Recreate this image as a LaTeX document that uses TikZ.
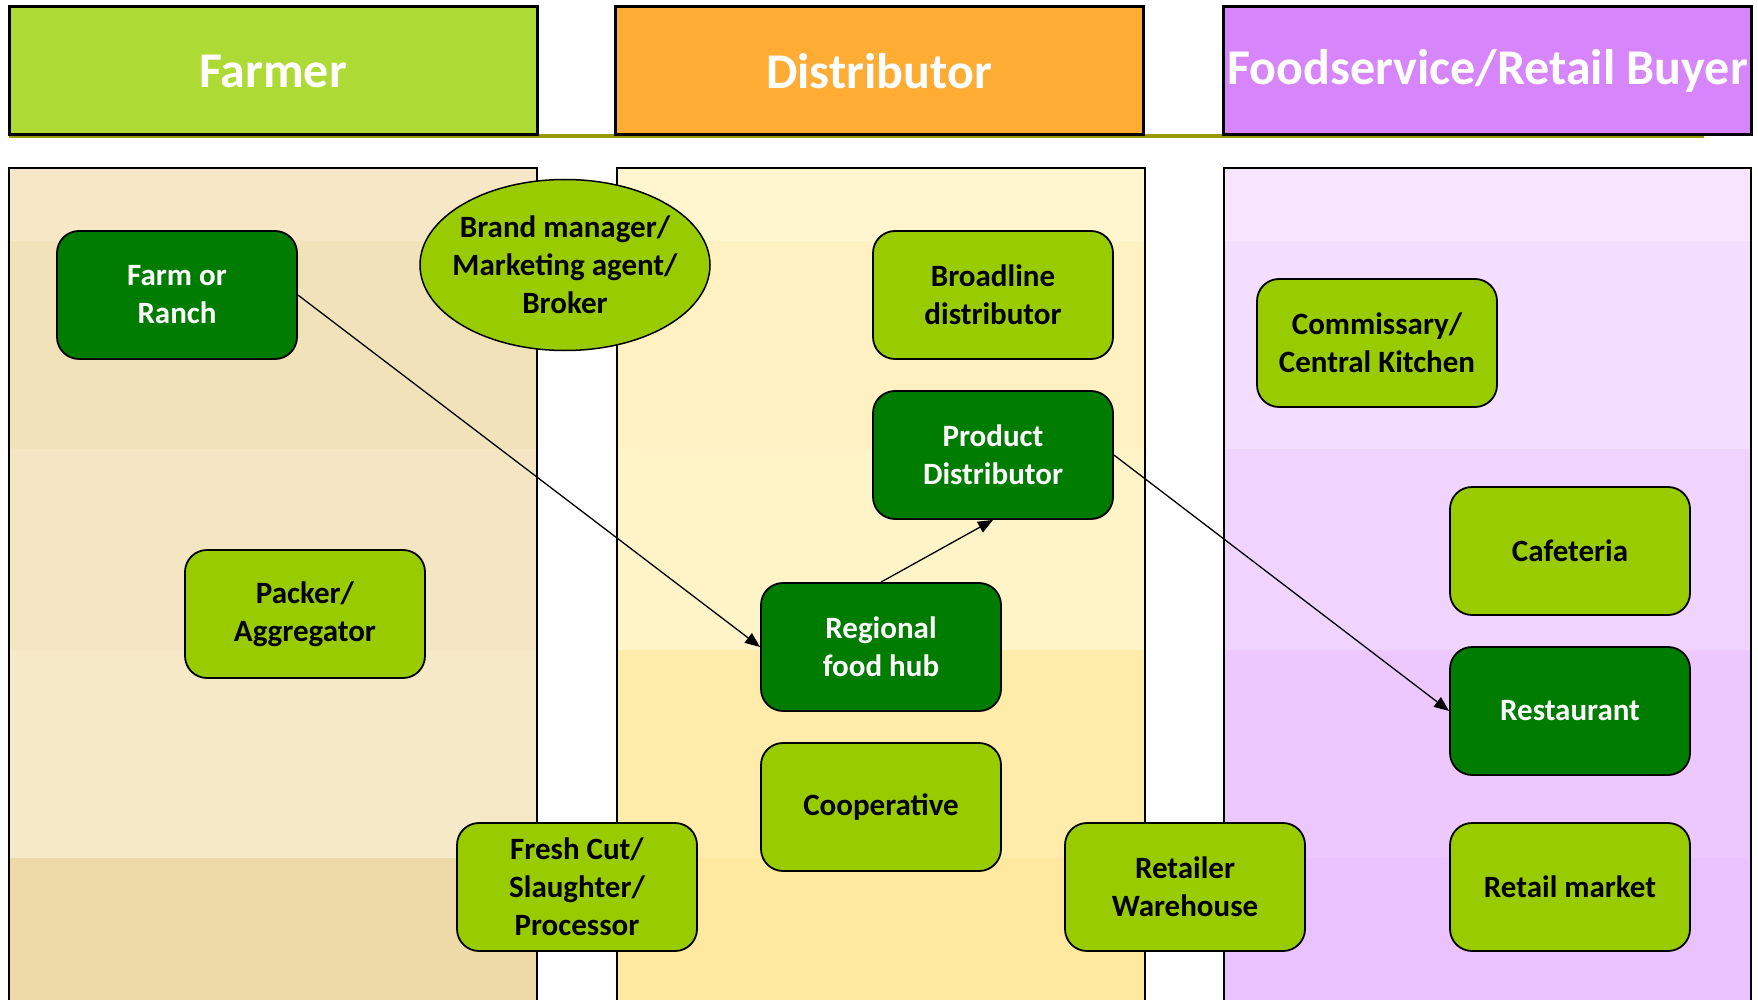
\documentclass[tikz,border=0pt]{standalone}
\usepackage{fontspec}
\setmainfont{Carlito}
\usetikzlibrary{shapes.geometric,arrows.meta}
\definecolor{lgreen}{HTML}{99CC00}
\definecolor{dgreen}{HTML}{007D00}
\definecolor{olive}{HTML}{999900}
\definecolor{hdrgreen}{HTML}{ADDA35}
\definecolor{hdrorange}{HTML}{FFAC35}
\definecolor{hdrpurple}{HTML}{D686FA}
\begin{document}
\begin{tikzpicture}[x=1pt,y=-1pt,
  hdr/.style={draw=black,line width=3pt,minimum width=528pt,minimum height=128pt,inner sep=0pt,text=white,font=\fontsize{50}{56}\selectfont\bfseries},
  colbox/.style={draw=black,line width=2.5pt},
  boxbase/.style={draw=black,line width=1.8pt,rounded corners=22pt,minimum width=240pt,minimum height=128pt,inner sep=2pt,align=center,font=\fontsize{31}{38}\selectfont\bfseries},
  lightbox/.style={boxbase,fill=lgreen,text=black},
  darkbox/.style={boxbase,fill=dgreen,text=white},
  brokerbox/.style={ellipse,draw=black,line width=1.5pt,fill=lgreen,minimum width=290pt,minimum height=171pt,inner xsep=-22pt,inner ysep=0pt,align=center,font=\fontsize{31}{38}\selectfont\bfseries},
  flow/.style={draw=black,line width=1.3pt,-{Triangle[length=15pt,width=12pt]}}
]
\useasboundingbox (0,0) rectangle (1758,1000);
\begin{scope}
\clip (0,0) rectangle (1758,1000);
% column backgrounds with bands
\fill[fill={rgb,255:red,246;green,232;blue,198}] (9,168) rectangle (537,241);
\fill[fill={rgb,255:red,242;green,226;blue,186}] (9,241) rectangle (537,449);
\fill[fill={rgb,255:red,244;green,230;blue,194}] (9,449) rectangle (537,650);
\fill[fill={rgb,255:red,245;green,233;blue,200}] (9,650) rectangle (537,858);
\fill[fill={rgb,255:red,238;green,217;blue,168}] (9,858) rectangle (537,1010);
\fill[fill={rgb,255:red,255;green,245;blue,206}] (617,168) rectangle (1145,241);
\fill[fill={rgb,255:red,255;green,241;blue,194}] (617,241) rectangle (1145,449);
\fill[fill={rgb,255:red,255;green,243;blue,200}] (617,449) rectangle (1145,650);
\fill[fill={rgb,255:red,255;green,235;blue,170}] (617,650) rectangle (1145,858);
\fill[fill={rgb,255:red,255;green,232;blue,160}] (617,858) rectangle (1145,1010);
\fill[fill={rgb,255:red,247;green,228;blue,255}] (1224,168) rectangle (1751,241);
\fill[fill={rgb,255:red,244;green,222;blue,255}] (1224,241) rectangle (1751,449);
\fill[fill={rgb,255:red,240;green,212;blue,255}] (1224,449) rectangle (1751,650);
\fill[fill={rgb,255:red,236;green,200;blue,255}] (1224,650) rectangle (1751,858);
\fill[fill={rgb,255:red,233;green,194;blue,255}] (1224,858) rectangle (1751,1010);
\draw[colbox] (9,1010) -- (9,168) -- (537,168) -- (537,1010);
\draw[colbox] (617,1010) -- (617,168) -- (1145,168) -- (1145,1010);
\draw[colbox] (1224,1010) -- (1224,168) -- (1751,168) -- (1751,1010);
\end{scope}
% olive rule under headers
\draw[olive,line width=4pt] (9,136) -- (1704,136);
% headers
\node[hdr,fill=hdrgreen] (hfarmer) at (273,71) {Farmer};
\node[hdr,fill=hdrorange] (hdist) at (879,71) {Distributor};
\node[hdr,fill=hdrpurple] (hbuyer) at (1487.5,71) {Foodservice/Retail Buyer};
% nodes
\node[darkbox] (farm) at (177,295) {Farm or\\Ranch};
\node[brokerbox] (broker) at (565,265) {Brand manager/\\Marketing agent/\\Broker};
\node[lightbox] (broad) at (993,295) {Broadline\\distributor};
\node[darkbox] (prod) at (993,455) {Product\\Distributor};
\node[lightbox] (comm) at (1377,343) {Commissary/\\Central Kitchen};
\node[lightbox] (cafe) at (1570,551) {Cafeteria};
\node[lightbox] (packer) at (305,614) {Packer/\\Aggregator};
\node[darkbox] (hub) at (881,647) {Regional\\food hub};
\node[darkbox] (rest) at (1570,711) {Restaurant};
\node[lightbox] (coop) at (881,807) {Cooperative};
\node[lightbox] (fresh) at (577,887) {Fresh Cut/\\Slaughter/\\Processor};
\node[lightbox] (rwh) at (1185,887) {Retailer\\Warehouse};
\node[lightbox] (rmarket) at (1570,887) {Retail market};
% connectors
\draw[flow] (farm.east) -- (hub.west);
\draw[flow] (hub.north) -- (prod.south);
\draw[flow] (prod.east) -- (rest.west);
\end{tikzpicture}
\end{document}
